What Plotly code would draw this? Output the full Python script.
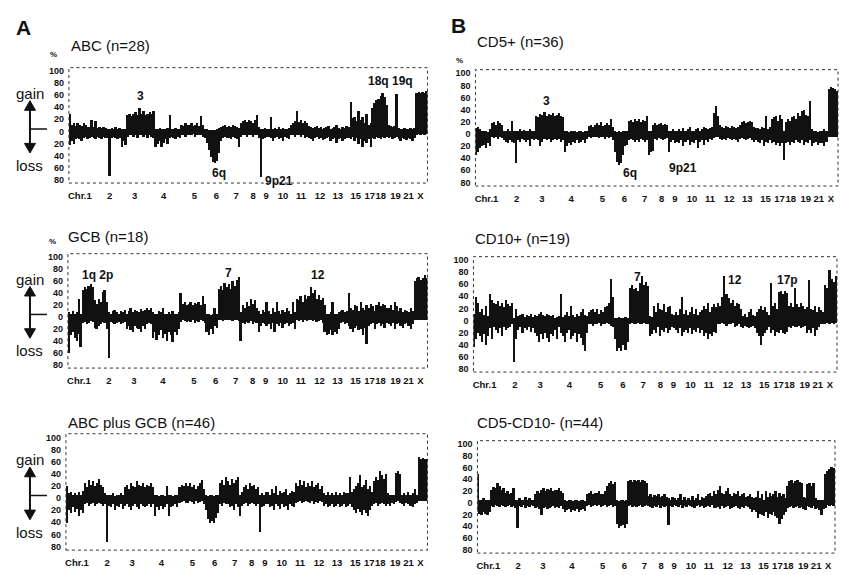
import plotly.graph_objects as go

W, H = 844, 575

# ---- axis labels ----
CHR_LABELS = ["Chr.1", "2", "3", "4", "5", "6", "7", "8", "9", "10", "11", "12",
              "13", "15", "17", "18", "19", "21", "X"]
CHR_POS = [11, 41, 66, 95, 126, 148, 168, 185, 198, 215, 233, 252, 270, 288,
           302, 313, 328, 341, 353]
Y_TICKS = [100, 80, 60, 40, 20, 0, -20, -40, -60, -80]
Y_TEXT = ["100", "80", "60", "40", "20", "0", "20", "40", "60", "80"]

# ---- frequency (%) of gain / loss per genome bin (2 units per bin) ----
ABC_GAIN = [30,12,15,10,14,12,10,14,12,8,8,20,8,18,6,8,6,8,6,5,
            5,6,5,8,5,6,5,4,5,28,30,26,30,32,28,40,30,34,28,30,
            32,30,35,5,4,6,5,4,5,6,27,5,4,6,5,4,12,10,14,12,
            12,15,10,12,14,10,26,12,4,5,3,2,2,3,4,6,8,10,12,8,
            10,8,12,10,8,6,14,18,20,16,20,18,15,20,27,8,5,4,6,5,
            5,25,4,6,5,8,5,6,4,5,6,12,15,18,35,16,20,15,18,14,
            10,8,6,8,10,6,8,5,6,8,10,5,6,8,12,6,5,8,6,10,
            8,50,22,25,18,35,20,25,15,30,12,15,40,48,52,55,60,65,58,45,
            12,10,8,10,62,6,5,4,6,5,4,6,5,6,65,66,64,66,65,67]
ABC_LOSS = [-22,-15,-20,-12,-10,-12,-15,-10,-8,-12,-10,-8,-10,-12,-8,-10,-12,-8,-10,-10,
            -73,-10,-8,-10,-12,-10,-25,-15,-22,-8,-5,-6,-8,-5,-10,-6,-5,-8,-6,-10,
            -6,-8,-10,-25,-20,-15,-25,-18,-12,-20,-10,-8,-10,-12,-8,-10,-6,-5,-8,-6,
            -5,-6,-4,-8,-5,-6,-5,-8,-10,-18,-30,-42,-50,-52,-48,-35,-15,-10,-8,-10,
            -10,-12,-8,-10,-12,-25,-8,-6,-5,-8,-6,-5,-8,-6,-5,-10,-75,-12,-10,-8,
            -8,-10,-15,-10,-8,-12,-10,-15,-8,-10,-12,-6,-5,-8,-6,-5,-8,-6,-10,-8,
            -10,-12,-15,-10,-8,-12,-10,-14,-12,-10,-8,-15,-12,-10,-18,-12,-10,-15,-12,-10,
            -10,-12,-8,-15,-10,-20,-12,-25,-15,-18,-12,-25,-10,-12,-8,-10,-12,-8,-10,-8,
            -10,-8,-12,-10,-8,-12,-15,-10,-12,-14,-10,-12,-15,-10,-5,-4,-5,-4,-5,-4]

CD5_GAIN = [10,12,8,6,5,6,4,8,18,20,16,22,18,15,6,5,8,5,22,6,
            5,6,8,5,7,6,5,8,6,6,30,28,34,32,36,30,34,32,35,30,
            32,35,30,28,5,6,4,5,6,5,4,6,5,4,6,5,14,16,12,15,
            18,15,20,14,16,18,15,25,12,5,4,5,4,6,5,6,22,24,20,25,
            22,25,20,24,22,30,6,5,16,18,15,17,18,16,17,15,6,5,8,6,
            6,8,5,10,6,8,12,6,5,8,10,6,8,12,10,8,10,12,35,47,
            30,15,12,10,14,12,10,14,12,10,12,15,20,22,18,20,22,20,12,10,
            10,8,12,10,30,8,12,25,28,30,22,32,26,5,20,25,22,28,30,25,
            35,30,38,40,32,30,55,8,5,6,4,6,5,8,6,75,78,76,74,72]
CD5_LOSS = [-35,-30,-22,-20,-18,-22,-15,-20,-5,-6,-4,-8,-5,-6,-10,-12,-15,-10,-12,-14,
            -48,-10,-12,-8,-10,-12,-10,-20,-8,-10,-8,-10,-20,-12,-8,-10,-8,-12,-10,-8,
            -10,-8,-12,-10,-30,-20,-15,-18,-12,-15,-10,-14,-12,-10,-15,-8,-5,-6,-5,-4,
            -5,-6,-4,-5,-8,-5,-6,-4,-10,-30,-45,-50,-48,-35,-20,-18,-10,-8,-10,-12,
            -10,-12,-8,-10,-12,-10,-35,-30,-28,-8,-10,-6,-8,-10,-8,-6,-30,-12,-10,-15,
            -12,-15,-10,-20,-12,-10,-18,-12,-15,-10,-22,-12,-10,-18,-10,-12,-8,-10,-6,-5,
            -5,-8,-10,-8,-10,-6,-8,-10,-8,-10,-12,-8,-6,-8,-10,-8,-6,-10,-12,-10,
            -12,-15,-10,-20,-12,-15,-10,-15,-12,-18,-15,-20,-15,-42,-15,-12,-18,-12,-15,-10,
            -12,-15,-10,-18,-12,-15,-10,-20,-15,-12,-18,-14,-15,-20,-12,-5,-4,-5,-4,-5]

GCB_GAIN = [8,5,10,6,8,30,6,45,50,48,52,55,50,28,22,30,25,42,45,25,
            8,6,10,12,8,6,10,8,12,6,10,15,8,12,10,8,14,10,12,15,
            12,15,8,5,6,10,8,15,6,5,8,6,10,5,6,8,40,22,25,20,
            22,25,20,24,22,25,20,35,22,5,6,4,5,15,6,48,52,45,58,50,
            55,48,60,52,62,68,8,20,15,25,18,30,22,28,15,10,6,12,8,25,
            10,6,15,8,25,10,6,12,8,15,10,6,25,8,30,28,35,25,38,30,
            35,50,40,45,30,38,28,32,20,6,5,8,25,6,5,8,10,12,8,10,
            40,15,12,20,18,10,25,15,12,20,15,22,18,10,20,25,18,22,20,15,
            15,20,12,25,18,10,15,8,12,10,8,15,10,60,65,68,62,65,70,65]
GCB_LOSS = [-60,-30,-25,-35,-40,-28,-50,-10,-8,-12,-10,-6,-8,-18,-20,-15,-12,-8,-10,-20,
            -68,-8,-10,-12,-10,-8,-12,-10,-8,-20,-15,-22,-25,-15,-18,-20,-25,-15,-20,-12,
            -10,-12,-35,-25,-38,-30,-22,-35,-28,-40,-25,-30,-42,-25,-30,-20,-8,-5,-6,-8,
            -6,-8,-5,-10,-6,-8,-5,-6,-10,-25,-30,-20,-28,-15,-18,-5,-4,-6,-5,-4,
            -5,-4,-6,-5,-4,-6,-40,-10,-12,-8,-10,-6,-12,-8,-10,-25,-15,-10,-12,-15,
            -12,-20,-10,-25,-12,-15,-10,-18,-12,-10,-15,-12,-10,-20,-5,-6,-4,-8,-5,-6,
            -5,-4,-6,-5,-8,-6,-5,-10,-25,-30,-28,-22,-30,-25,-28,-20,-10,-8,-12,-10,
            -15,-20,-25,-18,-15,-22,-20,-30,-18,-45,-15,-12,-10,-20,-12,-10,-15,-12,-18,-10,
            -12,-15,-10,-20,-12,-10,-15,-18,-12,-10,-15,-20,-12,-5,-4,-5,-4,-5,-4,-5]

CD10_GAIN = [12,40,30,15,20,10,25,8,45,35,30,28,32,25,30,22,35,28,25,30,
             5,20,8,10,12,6,10,8,12,6,10,8,12,15,10,8,12,10,8,10,
             5,6,8,45,6,10,15,8,25,10,6,12,8,15,20,10,8,15,18,20,
             15,20,12,18,15,22,25,30,69,40,5,4,6,5,4,6,5,55,60,52,
             55,50,62,75,60,65,58,8,6,25,15,30,20,18,28,15,22,25,12,10,
             15,10,20,40,12,18,10,15,22,12,20,10,15,18,25,20,30,15,22,28,
             22,30,25,40,75,45,38,30,35,25,30,28,20,8,12,6,15,20,10,8,
             15,20,25,18,22,15,10,62,25,30,20,48,50,45,50,46,25,30,22,55,
             28,22,30,25,20,22,68,20,18,25,15,22,18,15,60,55,85,70,65,75]
CD10_LOSS = [-44,-30,-20,-25,-35,-22,-40,-25,-12,-30,-10,-15,-20,-12,-25,-10,-15,-12,-10,-5,
             -68,-30,-15,-10,-20,-12,-15,-10,-18,-12,-20,-25,-35,-22,-30,-20,-28,-35,-22,-25,
             -15,-30,-10,-20,-25,-35,-20,-15,-30,-25,-20,-35,-22,-28,-40,-51,-20,-5,-6,-8,
             -5,-6,-4,-8,-5,-6,-4,-5,-8,-10,-30,-50,-45,-50,-40,-48,-35,-5,-4,-6,
             -5,-4,-6,-5,-4,-5,-6,-25,-22,-15,-20,-10,-25,-15,-18,-12,-20,-15,-10,-12,
             -15,-20,-12,-25,-18,-15,-20,-12,-22,-15,-18,-12,-20,-15,-25,-20,-30,-22,-25,-18,
             -20,-5,-6,-4,-5,-8,-5,-6,-4,-10,-8,-6,-10,-12,-8,-10,-12,-10,-8,-12,
             -20,-25,-40,-25,-20,-15,-10,-20,-15,-25,-18,-20,-15,-20,-22,-18,-10,-12,-8,-10,
             -10,-8,-12,-10,-8,-20,-15,-20,-12,-25,-15,-10,-5,-6,-5,-4,-5,-4,-5,-4]

ALL_GAIN = [20,8,10,6,8,5,10,6,12,25,18,30,22,28,20,25,32,22,18,8,
            5,6,5,8,4,6,5,8,6,18,22,15,25,20,18,28,22,20,25,18,
            22,20,25,18,5,6,4,5,6,4,20,5,6,4,5,6,18,22,20,25,
            20,25,18,22,15,20,25,30,15,5,4,6,5,4,6,6,25,30,22,35,
            28,22,32,25,30,35,6,10,18,22,15,25,20,22,15,18,5,8,6,10,
            10,6,15,8,20,6,12,8,10,15,6,8,12,10,25,20,30,22,28,18,
            25,20,28,18,22,25,15,20,8,6,10,5,8,6,10,5,8,6,10,8,
            8,35,10,15,20,25,38,18,22,30,15,20,10,28,35,30,45,38,32,40,
            8,5,6,5,42,45,40,6,8,5,10,6,8,15,6,68,65,66,64,65]
ALL_LOSS = [-40,-20,-25,-15,-22,-18,-30,-20,-25,-10,-8,-12,-10,-8,-12,-10,-8,-10,-12,-10,
            -72,-12,-15,-10,-20,-12,-15,-10,-18,-12,-10,-15,-20,-12,-10,-15,-18,-10,-12,-15,
            -12,-10,-15,-10,-30,-15,-20,-12,-18,-15,-10,-30,-15,-12,-10,-15,-8,-6,-5,-8,
            -8,-5,-6,-10,-5,-8,-6,-5,-10,-20,-35,-40,-38,-40,-32,-25,-10,-12,-8,-10,
            -10,-15,-12,-20,-10,-15,-30,-12,-10,-8,-12,-10,-8,-10,-12,-10,-55,-15,-12,-10,
            -10,-15,-12,-20,-10,-12,-18,-10,-15,-12,-20,-10,-12,-15,-8,-6,-5,-8,-6,-5,
            -6,-8,-5,-10,-6,-8,-5,-6,-12,-10,-15,-12,-10,-14,-12,-10,-15,-12,-10,-14,
            -12,-10,-15,-20,-25,-18,-22,-28,-20,-25,-30,-20,-12,-10,-8,-12,-10,-8,-10,-12,
            -10,-12,-8,-10,-6,-5,-8,-10,-12,-8,-10,-12,-15,-10,-8,-5,-4,-5,-4,-5]

DN_GAIN = [50,6,5,8,6,5,6,22,28,25,35,30,22,25,18,20,15,18,25,6,
           5,8,6,5,10,6,8,5,6,15,20,18,22,25,20,24,22,25,20,22,
           22,25,20,18,5,4,6,5,4,6,5,4,6,5,4,15,18,20,16,18,
           18,20,15,16,20,30,35,38,32,36,5,4,6,5,4,5,38,40,36,40,
           38,40,36,40,38,35,12,15,10,14,12,15,10,12,15,10,8,6,10,8,
           6,8,15,6,10,5,8,6,12,5,8,15,6,10,8,12,15,18,12,20,
           15,22,30,18,15,20,25,15,12,18,15,20,12,15,18,10,12,15,10,8,
           10,20,8,15,5,20,10,18,12,15,20,10,18,12,15,8,30,38,40,35,
           38,40,36,35,10,8,32,35,30,34,8,5,6,5,6,50,55,58,62,60]
DN_LOSS = [-15,-18,-20,-15,-18,-20,-15,-5,-6,-4,-5,-6,-4,-5,-6,-5,-4,-6,-5,-8,
           -42,-5,-6,-4,-8,-5,-6,-4,-5,-8,-6,-10,-20,-8,-6,-10,-8,-6,-5,-8,
           -6,-8,-5,-10,-15,-12,-10,-15,-12,-14,-10,-15,-12,-10,-14,-5,-4,-6,-5,-4,
           -5,-4,-6,-5,-4,-6,-5,-4,-6,-5,-35,-42,-40,-38,-42,-36,-5,-4,-6,-5,
           -6,-5,-4,-6,-5,-4,-5,-6,-8,-5,-6,-4,-8,-5,-6,-5,-38,-5,-6,-4,
           -5,-6,-4,-8,-5,-6,-4,-5,-6,-8,-5,-4,-6,-5,-8,-6,-5,-6,-4,-8,
           -8,-6,-10,-5,-8,-6,-5,-10,-8,-6,-5,-8,-10,-6,-8,-5,-6,-10,-15,-12,
           -15,-25,-18,-20,-22,-15,-25,-18,-20,-15,-22,-25,-35,-28,-20,-15,-8,-6,-5,-8,
           -6,-5,-8,-6,-10,-12,-5,-6,-8,-5,-10,-8,-12,-20,-10,-8,-4,-5,-4,-5]

FONT = "Liberation Sans, Arial, sans-serif"


def px(x):
    return x / W


def py(y):
    return 1 - y / H


# (title, gain, loss, box [left, right, top, bottom] px, title pos px, is_left_column)
panels = [
    ("ABC (n=28)", ABC_GAIN, ABC_LOSS, (68, 427, 67, 183), (68, 45), True),
    ("CD5+ (n=36)", CD5_GAIN, CD5_LOSS, (475, 838, 69, 186), (475, 41), False),
    ("GCB (n=18)", GCB_GAIN, GCB_LOSS, (67, 427, 254, 369), (65, 237), True),
    ("CD10+ (n=19)", CD10_GAIN, CD10_LOSS, (473, 837, 257, 373), (473, 239), False),
    ("ABC plus GCB (n=46)", ALL_GAIN, ALL_LOSS, (65, 427, 435, 552), (65, 424), True),
    ("CD5-CD10- (n=44)", DN_GAIN, DN_LOSS, (477, 835, 442, 555), (475, 424), False),
]

fig = go.Figure()
shapes = []
annotations = []
layout_axes = {}
YR = [-86, 106]

for i, (title, gain, loss, box, tpos, left) in enumerate(panels):
    n = i + 1
    sfx = "" if n == 1 else str(n)
    xa, ya = "x" + sfx, "y" + sfx
    xs_g = [2 * k + 1 for k in range(len(gain))]
    xs_l = [2 * k + 1 for k in range(len(loss))]
    fig.add_trace(go.Bar(x=xs_g, y=gain, width=2, marker=dict(color="#111111", line=dict(width=0)),
                         xaxis=xa, yaxis=ya, showlegend=False, hoverinfo="skip"))
    fig.add_trace(go.Bar(x=xs_l, y=loss, width=2, marker=dict(color="#111111", line=dict(width=0)),
                         xaxis=xa, yaxis=ya, showlegend=False, hoverinfo="skip"))
    l, r, t, b = box
    layout_axes["xaxis" + sfx] = dict(
        domain=[px(l), px(r)], range=[0, 360], anchor=ya, showgrid=False, zeroline=False,
        showline=False, ticks="", tickvals=CHR_POS, ticktext=CHR_LABELS, tickangle=0,
        tickfont=dict(family=FONT, size=9.5, color="#111", weight="bold"),
        ticklabelstandoff=5, fixedrange=True)
    layout_axes["yaxis" + sfx] = dict(
        domain=[py(b), py(t)], range=YR, anchor=xa, showgrid=False, zeroline=False,
        showline=False, ticks="", tickvals=Y_TICKS, ticktext=Y_TEXT,
        tickfont=dict(family=FONT, size=9, color="#111", weight="bold"),
        ticklabelstandoff=4, fixedrange=True)
    # dotted frame
    shapes.append(dict(type="rect", xref=xa + " domain", yref=ya + " domain",
                       x0=0, x1=1, y0=0, y1=1,
                       line=dict(color="#333", width=1, dash="dot"), layer="above"))
    # panel title
    annotations.append(dict(text=title, x=px(tpos[0]), y=py(tpos[1]), xref="paper", yref="paper",
                            xanchor="left", yanchor="middle", showarrow=False,
                            font=dict(family=FONT, size=15, color="#111")))
    if left:
        ax_x = 29
        annotations.append(dict(text="gain", x=px(ax_x), y=63, xref="paper", yref=ya,
                                xanchor="center", yanchor="middle", showarrow=False,
                                font=dict(family=FONT, size=15, color="#111")))
        annotations.append(dict(text="loss", x=px(ax_x), y=-57, xref="paper", yref=ya,
                                xanchor="center", yanchor="middle", showarrow=False,
                                font=dict(family=FONT, size=15, color="#111")))
        shapes.append(dict(type="line", xref="paper", yref=ya, x0=px(ax_x), x1=px(ax_x),
                           y0=-22, y1=38, line=dict(color="#111", width=2)))
        shapes.append(dict(type="line", xref="paper", yref=ya, x0=px(ax_x), x1=px(46),
                           y0=4, y1=4, line=dict(color="#111", width=1.5)))
        shapes.append(dict(type="path", xref="paper", yref=ya,
                           path=f"M {px(ax_x)},51 L {px(ax_x - 5.5)},35 L {px(ax_x + 5.5)},35 Z",
                           fillcolor="#111", line=dict(color="#111", width=1)))
        shapes.append(dict(type="path", xref="paper", yref=ya,
                           path=f"M {px(ax_x)},-36 L {px(ax_x - 5.5)},-20 L {px(ax_x + 5.5)},-20 Z",
                           fillcolor="#111", line=dict(color="#111", width=1)))

# "%" markers
for (x, y) in [(53, 54), (459, 60), (52, 242)]:
    annotations.append(dict(text="%", x=px(x), y=py(y), xref="paper", yref="paper",
                            showarrow=False, xanchor="center", yanchor="middle",
                            font=dict(family=FONT, size=8, color="#111", weight="bold")))

# panel letters
for (txt, x, y) in [("A", 23, 27), ("B", 458, 25)]:
    annotations.append(dict(text=txt, x=px(x), y=py(y), xref="paper", yref="paper",
                            showarrow=False, xanchor="center", yanchor="middle",
                            font=dict(family=FONT, size=21, color="#111", weight="bold")))

# region labels
REGION_LABELS = [("3", 140, 96), ("18q 19q", 390, 80), ("6q", 218, 173), ("9p21", 278, 181),
                 ("3", 546, 101), ("6q", 630, 173), ("9p21", 683, 168),
                 ("1q 2p", 97, 275), ("7", 228, 273), ("12", 317, 275),
                 ("7", 637, 277), ("12", 735, 280), ("17p", 787, 280)]
for (txt, x, y) in REGION_LABELS:
    annotations.append(dict(text=txt, x=px(x), y=py(y), xref="paper", yref="paper",
                            showarrow=False, xanchor="center", yanchor="middle",
                            font=dict(family=FONT, size=12, color="#111", weight="bold")))

fig.update_layout(
    width=W, height=H, margin=dict(l=0, r=0, t=0, b=0),
    paper_bgcolor="white", plot_bgcolor="white",
    barmode="overlay", bargap=0, showlegend=False,
    shapes=shapes, annotations=annotations,
    **layout_axes,
)

fig.write_html("out.html", include_plotlyjs=True, config={"displayModeBar": False})
